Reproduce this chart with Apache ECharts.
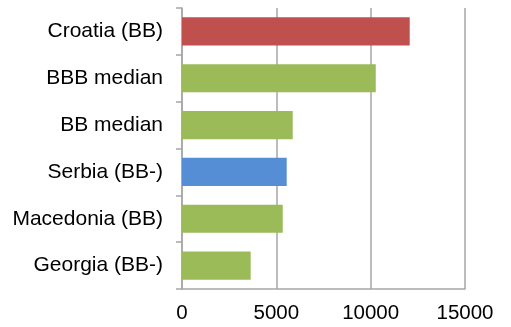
<!DOCTYPE html>
<html>
<head>
<meta charset="utf-8">
<script src="https://cdn.jsdelivr.net/npm/echarts@6/dist/echarts.min.js"></script>
<style>
  html, body { margin: 0; padding: 0; background: #fff; }
  #chart { width: 511px; height: 327px; }
</style>
</head>
<body>
<div id="chart"></div>
<script>
// Categories listed bottom-to-top (category axis runs upward)
const categories = ['Georgia (BB-)', 'Macedonia (BB)', 'Serbia (BB-)', 'BB median', 'BBB median', 'Croatia (BB)'];
const values = [3640, 5340, 5550, 5870, 10270, 12070];
const barColors = ['#9BBB59', '#9BBB59', '#558ED5', '#9BBB59', '#9BBB59', '#C0504D'];
const xTicks = [0, 5000, 10000, 15000];

const chart = echarts.init(document.getElementById('chart'), null, { renderer: 'canvas' });

chart.setOption({
  animation: false,
  backgroundColor: '#ffffff',
  grid: { left: 182, right: 46, top: 8, bottom: 38, containLabel: false },
  xAxis: {
    type: 'value',
    min: xTicks[0],
    max: xTicks[xTicks.length - 1],
    interval: xTicks[1] - xTicks[0],
    axisLine: { show: true, lineStyle: { color: '#A6A6A6', width: 1.5 } },
    axisTick: { show: false },
    splitLine: { show: true, lineStyle: { color: '#A6A6A6', width: 1.5 } },
    axisLabel: {
      color: '#000',
      fontFamily: 'Liberation Sans, Arial, sans-serif',
      fontSize: 20.5,
      margin: 14,
      formatter: v => String(v)
    }
  },
  yAxis: {
    type: 'category',
    data: categories,
    axisLine: { show: true, lineStyle: { color: '#A6A6A6', width: 1.5 } },
    axisTick: { show: true, length: 6, lineStyle: { color: '#A6A6A6', width: 1.5 } },
    splitLine: { show: false },
    axisLabel: {
      color: '#000',
      fontFamily: 'Liberation Sans, Arial, sans-serif',
      fontSize: 21,
      margin: 19
    }
  },
  series: [{
    type: 'bar',
    barWidth: '60%',
    data: values.map((v, i) => ({ value: v, itemStyle: { color: barColors[i] } }))
  }]
});
</script>
</body>
</html>
